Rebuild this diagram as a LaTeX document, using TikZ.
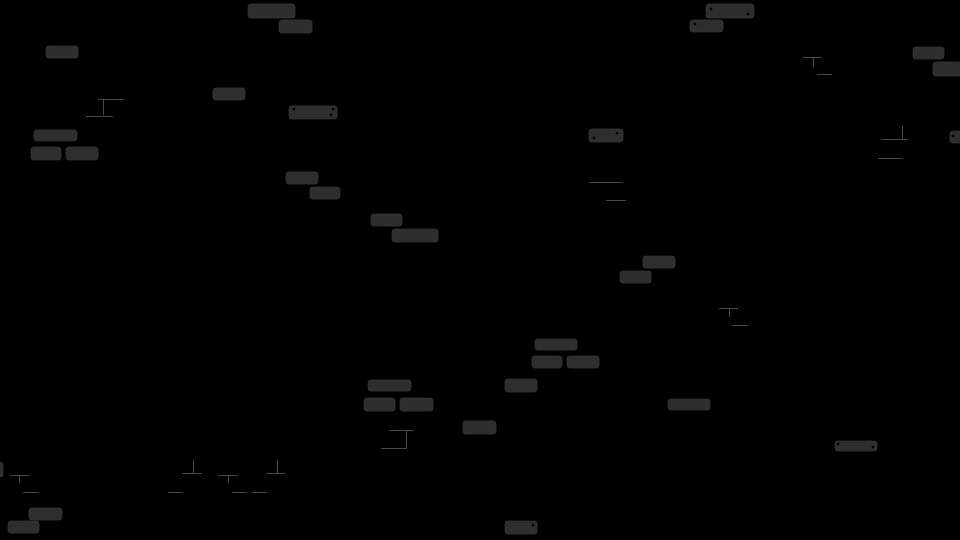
\documentclass[tikz,border=0pt]{standalone}
\usepackage{tikz}

\definecolor{tagfill}{RGB}{46,46,46}
\definecolor{tagedge}{RGB}{52,52,52}
\definecolor{stubgray}{RGB}{72,72,72}

\tikzset{
	tagbox/.style={fill=tagfill,draw=tagedge,line width=0.6pt,rounded corners=2.5pt},
	stub/.style={draw=stubgray,line width=0.8pt},
	pin/.style={fill=black}
}

\begin{document}
\begin{tikzpicture}[x=1pt,y=-1pt]
		\fill[black] (0,0) rectangle (960,540);
		\useasboundingbox (0,0) rectangle (960,540);
		% grey tags
		\foreach \xa/\ya/\xb/\yb in {
			248/4/295/18, 279/20/312/33, 46/46/78/58, 213/88/245/100,
			289/106/337/119, 34/130/77/141, 31/147/61/160, 66/147/98/160,
			286/172/318/184, 310/187/340/199, 371/214/402/226, 392/229/438/242,
			706/4/754/18, 690/20/723/32, 913/47/944/59, 933/62/963/76,
			950/131/963/143, 589/129/623/142, 643/256/675/268, 620/271/651/283,
			535/339/577/350, 532/356/562/368, 567/356/599/368,
			368/380/411/391, 364/398/395/411, 400/398/433/411, 505/379/537/392,
			463/421/496/434, 668/399/710/410, 835/441/877/451, 505/521/537/534,
			29/508/62/520, 8/521/39/533, -4/462/3/477}
		\draw[tagbox] (\xa,\ya) rectangle (\xb,\yb);
		% holes in some tags
		\foreach \x/\y in {294/109, 333/109, 331/115, 711/9, 748/14, 695/24,
			617/133, 594/138, 953/136, 838/444, 873/447, 533/525}
		\fill[pin] (\x,\y) circle (1.6);
		% thin strokes
		\draw[stub] (98,99) -- (124,99);
		\draw[stub] (103,99) -- (103,115);
		\draw[stub] (86,116) -- (113,116);
		\draw[stub] (803,57) -- (822,57);
		\draw[stub] (813,57) -- (813,67);
		\draw[stub] (817,74) -- (832,74);
		\draw[stub] (902,126) -- (902,139);
		\draw[stub] (881,139) -- (908,139);
		\draw[stub] (878,158) -- (903,158);
		\draw[stub] (589,182) -- (623,182);
		\draw[stub] (606,200) -- (626,200);
		\draw[stub] (389,430) -- (414,430);
		\draw[stub] (406,431) -- (406,448);
		\draw[stub] (381,448) -- (407,448);
		\draw[stub] (719,308) -- (738,308);
		\draw[stub] (729,308) -- (729,317);
		\draw[stub] (732,325) -- (748,325);
		\draw[stub] (193,460) -- (193,473);
		\draw[stub] (182,473) -- (202,473);
		\draw[stub] (218,475) -- (238,475);
		\draw[stub] (228,475) -- (228,483);
		\draw[stub] (168,492) -- (183,492);
		\draw[stub] (232,492) -- (247,492);
		\draw[stub] (252,492) -- (267,492);
		\draw[stub] (277,460) -- (277,473);
		\draw[stub] (266,473) -- (285,473);
		\draw[stub] (10,475) -- (29,475);
		\draw[stub] (19,475) -- (19,483);
		\draw[stub] (23,492) -- (39,492);
\end{tikzpicture}
\end{document}
